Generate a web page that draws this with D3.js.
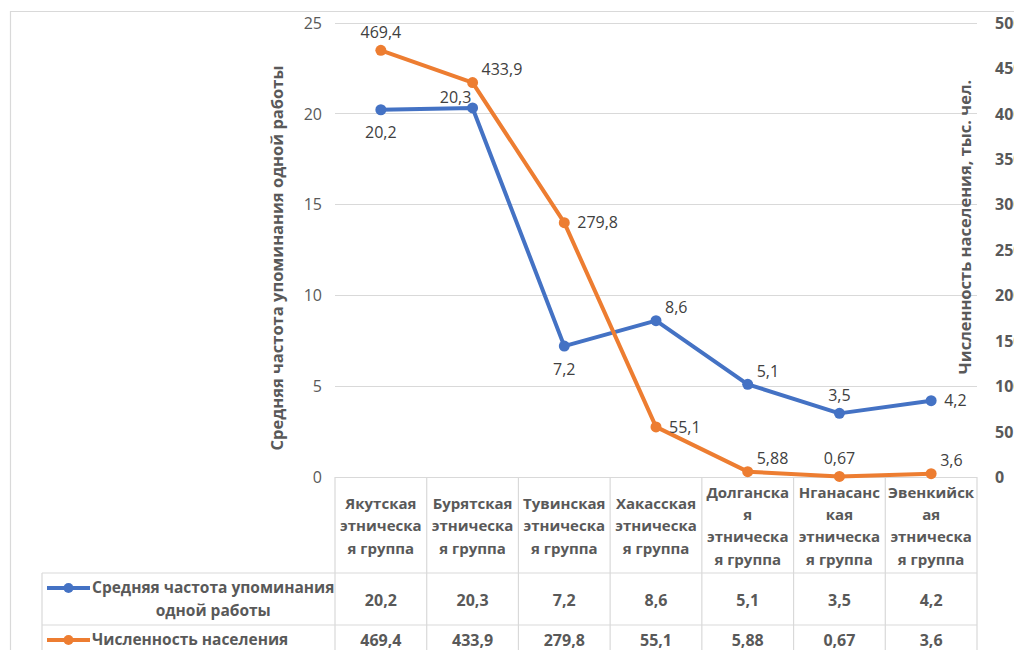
<!DOCTYPE html>
<html><head><meta charset="utf-8">
<script src="https://cdn.jsdelivr.net/npm/d3@7"></script>
<style>
html,body{margin:0;padding:0;background:#fff;overflow:hidden}
svg{display:block;font-family:"Open Sans",sans-serif}
</style></head>
<body><svg id="c" width="1014" height="650"></svg>
<script>
const categories = [
  ["Якутская","этническа","я группа"],
  ["Бурятская","этническа","я группа"],
  ["Тувинская","этническа","я группа"],
  ["Хакасская","этническа","я группа"],
  ["Долганска","я","этническа","я группа"],
  ["Нганасанс","кая","этническа","я группа"],
  ["Эвенкийск","ая","этническа","я группа"]
];
const seriesNames = [["Средняя частота упоминания","одной работы"],["Численность населения"]];
const frequency = [20.2, 20.3, 7.2, 8.6, 5.1, 3.5, 4.2];
const population = [469.4, 433.9, 279.8, 55.1, 5.88, 0.67, 3.6];
const frequencyLabels = ["20,2","20,3","7,2","8,6","5,1","3,5","4,2"];
const populationLabels = ["469,4","433,9","279,8","55,1","5,88","0,67","3,6"];
const leftTicks = [0,5,10,15,20,25];
const rightTicks = [0,50,100,150,200,250,300,350,400,450,500];
const leftTitle = "Средняя частота упоминания одной работы";
const rightTitle = "Численность населения, тыс. чел.";
// label placement per point
const freqPos = ["below","aboveLeft","below","aboveRight","aboveRight","above","right"];
const popPos = ["above","aboveRight","right","right","aboveRight","above","aboveRight"];

const svg = d3.select("#c");
const BLUE = "#4472C4", ORANGE = "#ED7D31", GRID = "#D9D9D9";
const x0 = 335, x1 = 977, yTop = 22.5, yBot = 477;

// outer chart border
svg.append("path").attr("d","M10.5,650 V11.5 H1014").attr("fill","none").attr("stroke",GRID).attr("stroke-width",1.2);

const x = d3.scaleBand().domain(d3.range(categories.length)).range([x0,x1]);
const yL = d3.scaleLinear().domain([0,25]).range([yBot,yTop]);
const yR = d3.scaleLinear().domain([0,500]).range([yBot,yTop]);

// gridlines
svg.append("g").selectAll("line").data(leftTicks).join("line")
  .attr("x1",x0).attr("x2",x1).attr("y1",d=>Math.round(yL(d))+0.5).attr("y2",d=>Math.round(yL(d))+0.5)
  .attr("stroke",GRID).attr("stroke-width",1);

// left axis
const gl = svg.append("g").attr("transform",`translate(${x0-13},0)`)
  .call(d3.axisLeft(yL).tickValues(leftTicks).tickSize(0).tickPadding(0).tickFormat(d=>d));
gl.select(".domain").remove();
gl.selectAll("text").attr("font-family","Open Sans").attr("font-size",16).attr("fill","#595959").attr("dy","0.35em");

// right axis
const gr = svg.append("g").attr("transform",`translate(${995},0)`)
  .call(d3.axisRight(yR).tickValues(rightTicks).tickSize(0).tickPadding(0).tickFormat(d=>d));
gr.select(".domain").remove();
gr.selectAll("text").attr("font-family","Open Sans").attr("font-size",16).attr("font-weight","bold").attr("fill","#595959").attr("dy","0.35em");

// axis titles
svg.append("text").attr("transform","translate(283,258) rotate(-90)").attr("text-anchor","middle")
  .attr("font-size",16.5).attr("font-weight","bold").attr("fill","#595959").text(leftTitle);
svg.append("text").attr("transform","translate(971,227) rotate(-90)").attr("text-anchor","middle")
  .attr("font-size",16.5).attr("font-weight","bold").attr("fill","#595959").text(rightTitle);

// data table
const rowY = [477, 573, 625, 677];
const tg = svg.append("g").attr("stroke",GRID).attr("stroke-width",1.2);
d3.range(categories.length+1).forEach(i=>{
  const xx = i<categories.length ? x(i) : x1;
  tg.append("line").attr("x1",xx).attr("x2",xx).attr("y1",rowY[0]).attr("y2",650);
});
tg.append("line").attr("x1",42).attr("x2",42).attr("y1",rowY[1]).attr("y2",650);
tg.append("line").attr("x1",42).attr("x2",x1).attr("y1",rowY[1]).attr("y2",rowY[1]);
tg.append("line").attr("x1",42).attr("x2",x1).attr("y1",rowY[2]).attr("y2",rowY[2]);

// headers
categories.forEach((lines,i)=>{
  const cx = x(i)+x.bandwidth()/2;
  const lh = 22.3, cy = (rowY[0]+rowY[1])/2 + 1;
  const t = svg.append("text").attr("text-anchor","middle").attr("font-size",15).attr("font-weight","bold").attr("fill","#595959");
  lines.forEach((s,k)=>{
    t.append("tspan").attr("x",cx).attr("y",cy + (k-(lines.length-1)/2)*lh).attr("dy","0.35em").text(s);
  });
});

// values rows
const rows = [frequencyLabels, populationLabels];
rows.forEach((vals,r)=>{
  const cy = r===0 ? 600 : 640;
  svg.append("g").selectAll("text").data(vals).join("text")
    .attr("x",(d,i)=>x(i)+x.bandwidth()/2).attr("y",cy).attr("dy","0.35em").attr("text-anchor","middle")
    .attr("font-size",16).attr("font-weight","bold").attr("fill","#595959").text(d=>d);
});

// legend keys in table
const keyColors = [BLUE, ORANGE];
const keyY = [588, 640];
seriesNames.forEach((lines,r)=>{
  svg.append("line").attr("x1",47).attr("x2",90).attr("y1",keyY[r]).attr("y2",keyY[r]).attr("stroke",keyColors[r]).attr("stroke-width",4);
  svg.append("circle").attr("cx",68.5).attr("cy",keyY[r]).attr("r",5).attr("fill",keyColors[r]);
  const t = svg.append("text").attr("font-size",15.5).attr("font-weight","bold").attr("fill","#595959");
  const spans = lines.map((s,k)=>t.append("tspan").attr("y",keyY[r]+k*22.5).attr("dy","0.35em").text(s));
  const widths = spans.map(sp=>sp.node().getComputedTextLength());
  const maxW = d3.max(widths);
  spans.forEach((sp,k)=>sp.attr("x",92 + (maxW-widths[k])/2));
});

// lines
function drawSeries(vals, y, color){
  const line = d3.line().x((d,i)=>x(i)+x.bandwidth()/2).y(d=>y(d));
  svg.append("path").datum(vals).attr("d",line).attr("fill","none").attr("stroke",color)
    .attr("stroke-width",4).attr("stroke-linejoin","round").attr("stroke-linecap","round");
  svg.append("g").selectAll("circle").data(vals).join("circle")
    .attr("cx",(d,i)=>x(i)+x.bandwidth()/2).attr("cy",d=>y(d)).attr("r",5.5).attr("fill",color);
}
drawSeries(frequency, yL, BLUE);
drawSeries(population, yR, ORANGE);

// data labels
function drawLabels(vals, labels, pos, y){
  const off = {
    below:{dx:0,dy:23,a:"middle"},
    above:{dx:0,dy:-18,a:"middle"},
    aboveLeft:{dx:-17,dy:-11,a:"middle"},
    aboveRight:{dx:9,dy:-13,a:"start"},
    right:{dx:13,dy:0,a:"start"}
  };
  svg.append("g").selectAll("text").data(vals).join("text")
    .attr("x",(d,i)=>x(i)+x.bandwidth()/2+off[pos[i]].dx)
    .attr("y",(d,i)=>y(d)+off[pos[i]].dy).attr("dy","0.35em")
    .attr("text-anchor",(d,i)=>off[pos[i]].a)
    .attr("font-size",16).attr("fill","#404040").text((d,i)=>labels[i]);
}
drawLabels(frequency, frequencyLabels, freqPos, yL);
drawLabels(population, populationLabels, popPos, yR);
</script></body></html>
